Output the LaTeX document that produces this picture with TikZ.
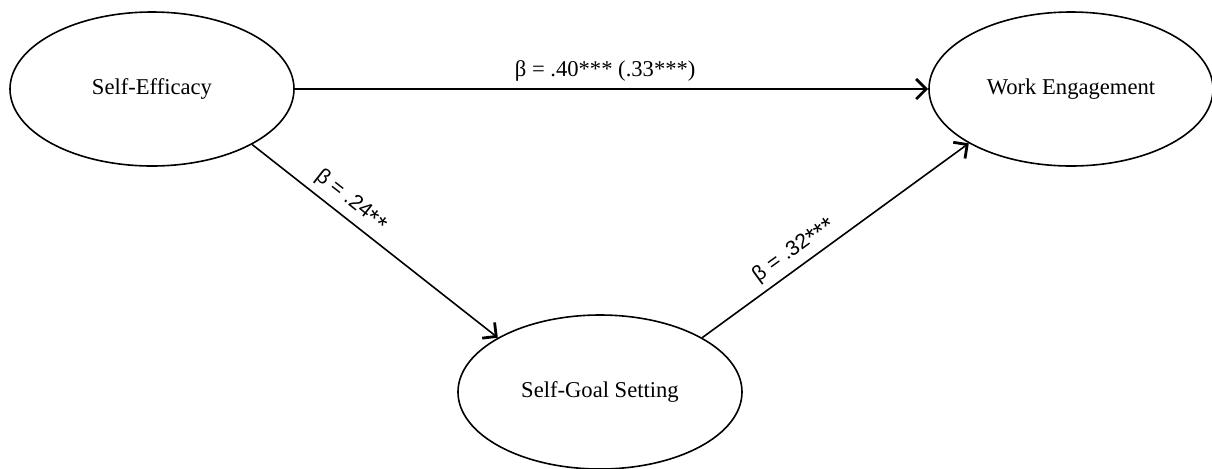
\documentclass[tikz,border=0pt]{standalone}
\usepackage{fontspec}
\setmainfont{Liberation Serif}
\newfontfamily\pathsans{Liberation Sans}
\usetikzlibrary{shapes.geometric,arrows.meta}

% asteriscos de significancia a media altura
\newcommand{\signif}[1]{{\fontsize{12.5}{12}\selectfont\raisebox{-0.3ex}{#1}}}

\tikzset{
  construct/.style={ellipse, draw, line width=0.8pt, minimum width=142pt,
    minimum height=77pt, inner sep=0pt, font=\fontsize{11.3}{13}\selectfont},
  path arrow/.style={line width=0.8pt,
    -{Straight Barb[length=5pt,width=10pt,line width=1.4pt]}},
  coef/.style={font=\fontsize{11.3}{13}\selectfont},
  coef sans/.style={font=\pathsans\fontsize{10.5}{12}\selectfont}
}

\begin{document}
\begin{tikzpicture}[x=0.5pt, y=-0.5pt]
    % Marco de la figura
    \useasboundingbox (0,0) rectangle (1212,468);

    % Constructos
    \node[construct] (SE)  at (152,89)  {Self-Efficacy};
    \node[construct] (WE)  at (1071,89) {Work Engagement};
    \node[construct] (SGS) at (600,392) {Self-Goal Setting};

    % Efecto directo
    \draw[path arrow] (SE.east) -- (WE.west)
        node[coef, pos=0.49, above] {β = .40*** (.33***)};

    % Efectos indirectos
    \draw[path arrow] (SE.-29) -- (SGS.152)
        node[coef sans, pos=0.36, sloped, above] {β = .24\signif{**}};
    \draw[path arrow] (SGS.28) -- (WE.-152)
        node[coef sans, pos=0.38, sloped, above] {β = .32\signif{***}};
\end{tikzpicture}
\end{document}
